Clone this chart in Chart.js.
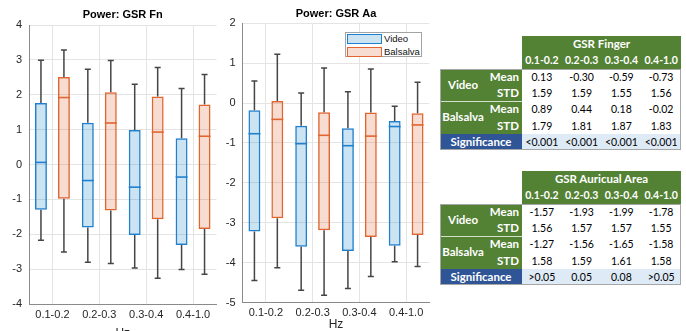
<!DOCTYPE html>
<html>
<head>
<meta charset="utf-8">
<script src="https://cdn.jsdelivr.net/npm/chart.js@4/dist/chart.umd.min.js"></script>
<style>
  html, body { margin: 0; padding: 0; background: #fff; width: 686px; height: 331px; overflow: hidden; }
  .chartBox { position: absolute; top: 0; height: 331px; }
  #fnBox { left: 0; width: 222px; }
  #aaBox { left: 214px; width: 220px; }
  .legend { position: absolute; left: 345px; top: 32px; width: 77px; height: 25px; box-sizing: border-box;
            border: 1px solid #a3a3a3; background: #fff; font-family: 'Liberation Sans', Arial, sans-serif; font-size: 9.5px; color: #111; }
  .legend .item { position: absolute; left: 1px; height: 10px; width: 74px; }
  .legend .sw { position: absolute; left: 0; top: 0; width: 35px; height: 10px; box-sizing: border-box; border: 1.5px solid; }
  .legend .txt { position: absolute; left: 37px; top: 0; line-height: 10px; }
  table.stats { position: absolute; border-collapse: collapse; table-layout: fixed; width: 241px;
                font-family: Lato, 'Open Sans', sans-serif; font-size: 10.5px; color: #000; }
  table.stats td { padding: 0; height: 16.3px; line-height: 12px; text-align: center; white-space: nowrap; overflow: hidden; }
  table.stats td.hdr { background: #548235; color: #fff; font-weight: bold; }
  table.stats td.title { font-size: 11.5px; }
  table.stats td.grp { background: #548235; color: #fff; font-weight: bold; font-size: 11.5px; }
  table.stats td.sub { background: #548235; color: #fff; font-weight: bold; font-size: 11.5px; text-align: right; padding-right: 3px; }
  table.stats td.sep { box-shadow: inset 0 1px 0 rgba(255,255,255,0.75); }
  table.stats td.sigLbl { background: #2F5597; color: #fff; font-weight: bold; font-size: 11.5px; }
  table.stats td.sigVal { background: #DEEBF7; }
  .frame { position: absolute; box-sizing: border-box; border: 1px solid #a6a6a6; pointer-events: none; }
</style>
</head>
<body>
<div id="fnBox" class="chartBox"><canvas id="fnChart"></canvas></div>
<div id="aaBox" class="chartBox"><canvas id="aaChart"></canvas></div>
<div id="legend" class="legend"></div>

<script>
// Frequency bands (Hz) and condition names
const hzBands = ['0.1-0.2', '0.2-0.3', '0.3-0.4', '0.4-1.0'];
const seriesNames = ['Video', 'Balsalva'];

// Box-plot summaries per band: [min, q1, median, q3, max]
const fnVideo = [[-2.17, -1.30, 0.06, 1.76, 2.99], [-2.80, -1.81, -0.46, 1.20, 2.73],
                 [-2.97, -2.02, -0.65, 0.99, 2.30], [-3.01, -2.31, -0.36, 0.75, 2.18]];
const fnBalsalva = [[-2.51, -0.98, 1.92, 2.51, 3.28], [-2.84, -1.32, 1.19, 2.07, 2.98],
                    [-3.26, -1.57, 0.93, 1.95, 2.78], [-3.15, -1.85, 0.81, 1.72, 2.58]];
const aaVideo = [[-4.45, -3.22, -0.77, -0.18, 0.55], [-4.69, -3.60, -1.02, -0.57, 0.25],
                 [-4.65, -3.71, -1.07, -0.63, 0.28], [-3.98, -3.58, -0.59, -0.45, -0.08]];
const aaBalsalva = [[-4.13, -2.89, -0.41, 0.05, 1.22], [-4.82, -3.19, -0.81, -0.23, 0.88],
                    [-4.35, -3.36, -0.83, -0.24, 0.85], [-4.10, -3.31, -0.55, -0.26, 0.52]];

// Table statistics
const fingerVideoMean = [0.13, -0.30, -0.59, -0.73];
const fingerVideoStd = [1.59, 1.59, 1.55, 1.56];
const fingerBalsalvaMean = [0.89, 0.44, 0.18, -0.02];
const fingerBalsalvaStd = [1.79, 1.81, 1.87, 1.83];
const fingerSignificance = ['<0.001', '<0.001', '<0.001', '<0.001'];

const auricVideoMean = [-1.57, -1.93, -1.99, -1.78];
const auricVideoStd = [1.56, 1.57, 1.57, 1.55];
const auricBalsalvaMean = [-1.27, -1.56, -1.65, -1.58];
const auricBalsalvaStd = [1.58, 1.59, 1.61, 1.58];
const auricSignificance = ['>0.05', '0.05', '0.08', '>0.05'];

const edgeColors = ['#1f80cf', '#e2642f'];
const fillColors = ['rgba(0,114,189,0.2)', 'rgba(217,83,25,0.2)'];
const gridColor = '#e4e4e4';
const axisColor = '#8a8a8a';
const textColor = '#262626';
const whiskerColor = '#454545';

// Whiskers, caps and median lines drawn on top of the floating q1-q3 bars
const whiskerPlugin = {
  id: 'whiskers',
  afterDatasetsDraw(chart) {
    const ctx = chart.ctx;
    const ys = chart.scales.y;
    chart.data.datasets.forEach((ds, d) => {
      const meta = chart.getDatasetMeta(d);
      meta.data.forEach((bar, i) => {
        const [mn, q1, md, q3, mx] = ds.stats[i];
        const { x, width } = bar.getProps(['x', 'width'], true);
        const half = width / 2;
        ctx.save();
        ctx.strokeStyle = whiskerColor;
        ctx.lineWidth = 1.5;
        ctx.beginPath();
        ctx.moveTo(x, ys.getPixelForValue(q3));
        ctx.lineTo(x, ys.getPixelForValue(mx));
        ctx.moveTo(x - 3, ys.getPixelForValue(mx));
        ctx.lineTo(x + 3, ys.getPixelForValue(mx));
        ctx.moveTo(x, ys.getPixelForValue(q1));
        ctx.lineTo(x, ys.getPixelForValue(mn));
        ctx.moveTo(x - 3, ys.getPixelForValue(mn));
        ctx.lineTo(x + 3, ys.getPixelForValue(mn));
        ctx.stroke();
        ctx.strokeStyle = ds.borderColor;
        ctx.lineWidth = 1.6;
        ctx.beginPath();
        ctx.moveTo(x - half, ys.getPixelForValue(md));
        ctx.lineTo(x + half, ys.getPixelForValue(md));
        ctx.stroke();
        ctx.restore();
      });
    });
  }
};

function boxDataset(idx, stats) {
  return {
    label: seriesNames[idx],
    data: stats.map(s => [s[1], s[3]]),
    stats: stats,
    backgroundColor: fillColors[idx],
    borderColor: edgeColors[idx],
    borderWidth: 1.5,
    borderSkipped: false,
    categoryPercentage: 0.98,
    barPercentage: 0.52
  };
}

function boxChart(canvasId, cfg) {
  const tickFont = { family: 'Liberation Sans', size: 11 };
  return new Chart(document.getElementById(canvasId), {
    type: 'bar',
    data: { labels: hzBands, datasets: [boxDataset(0, cfg.video), boxDataset(1, cfg.balsalva)] },
    options: {
      responsive: true,
      maintainAspectRatio: false,
      animation: false,
      events: [],
      layout: { padding: { top: 0, left: 0, right: cfg.padRight, bottom: 0 } },
      plugins: {
        legend: { display: false },
        tooltip: { enabled: false },
        title: {
          display: true, text: cfg.title, fullSize: false, color: '#000',
          font: { family: 'Liberation Sans', size: 11, weight: 'bold' },
          padding: { top: cfg.titleTop, bottom: cfg.titleBottom }
        }
      },
      scales: {
        x: {
          offset: true,
          grid: { offset: false, color: gridColor, drawTicks: false },
          border: { color: axisColor, width: 1 },
          ticks: { padding: cfg.xPad, color: textColor, font: tickFont, maxRotation: 0, autoSkip: false },
          title: { display: true, text: 'Hz', color: textColor, font: { family: 'Liberation Sans', size: 12 },
                   padding: { top: 0, bottom: cfg.hzPad } },
          afterFit: s => { s.height = cfg.xHeight; }
        },
        y: {
          min: cfg.yMin, max: cfg.yMax,
          grid: { color: gridColor, drawTicks: false },
          border: { color: axisColor, width: 1 },
          ticks: { stepSize: 1, padding: 7, color: textColor, font: tickFont },
          afterFit: s => { s.width = cfg.yWidth; }
        }
      }
    },
    plugins: [whiskerPlugin]
  });
}

boxChart('fnChart', {
  title: 'Power: GSR Fn', video: fnVideo, balsalva: fnBalsalva,
  yMin: -4, yMax: 4, padRight: 5.5, yWidth: 29, xHeight: 27,
  titleTop: 8.4, titleBottom: 3.4, xPad: 4, hzPad: -10
});
boxChart('aaChart', {
  title: 'Power: GSR Aa', video: aaVideo, balsalva: aaBalsalva,
  yMin: -5, yMax: 2, padRight: 4.5, yWidth: 28.5, xHeight: 28.5,
  titleTop: 7.4, titleBottom: 2.6, xPad: 3.5, hzPad: -1.2
});

// Legend for the two conditions
(function () {
  const lg = document.getElementById('legend');
  seriesNames.forEach((name, i) => {
    const item = document.createElement('div');
    item.className = 'item';
    item.style.top = (i === 0 ? 1.3 : 13.7) + 'px';
    const sw = document.createElement('div');
    sw.className = 'sw';
    sw.style.borderColor = edgeColors[i];
    sw.style.background = fillColors[i];
    const tx = document.createElement('div');
    tx.className = 'txt';
    tx.textContent = name;
    item.appendChild(sw);
    item.appendChild(tx);
    lg.appendChild(item);
  });
})();

// Summary tables
function buildTable(left, top, title, vMean, vStd, bMean, bStd, sig) {
  const rowH = 16.3;
  const t = document.createElement('table');
  t.className = 'stats';
  t.style.left = left + 'px';
  t.style.top = top + 'px';
  const colW = [46, 36, 39.75, 39.75, 39.75, 39.75];
  const cg = document.createElement('colgroup');
  colW.forEach(w => { const c = document.createElement('col'); c.style.width = w + 'px'; cg.appendChild(c); });
  t.appendChild(cg);
  const fmt = v => v.toFixed(2);
  const cell = (tr, text, cls, span, rspan) => {
    const td = document.createElement('td');
    if (cls) td.className = cls;
    if (span) td.colSpan = span;
    if (rspan) td.rowSpan = rspan;
    td.textContent = text;
    tr.appendChild(td);
    return td;
  };
  let tr = t.insertRow(); cell(tr, '', '', 2); cell(tr, title, 'hdr title', 4);
  tr = t.insertRow(); cell(tr, '', '', 2); hzBands.forEach(b => cell(tr, b, 'hdr'));
  tr = t.insertRow(); cell(tr, seriesNames[0], 'grp', 0, 2); cell(tr, 'Mean', 'sub'); vMean.forEach(v => cell(tr, fmt(v)));
  tr = t.insertRow(); cell(tr, 'STD', 'sub'); vStd.forEach(v => cell(tr, fmt(v)));
  tr = t.insertRow(); cell(tr, seriesNames[1], 'grp sep', 0, 2); cell(tr, 'Mean', 'sub sep'); bMean.forEach(v => cell(tr, fmt(v)));
  tr = t.insertRow(); cell(tr, 'STD', 'sub'); bStd.forEach(v => cell(tr, fmt(v)));
  tr = t.insertRow(); cell(tr, 'Significance', 'sigLbl', 2); sig.forEach(v => cell(tr, v, 'sigVal'));
  document.body.appendChild(t);
  const fr = document.createElement('div');
  fr.className = 'frame';
  fr.style.left = left + 'px';
  fr.style.top = (top + 2 * rowH) + 'px';
  fr.style.width = '241px';
  fr.style.height = (5 * rowH) + 'px';
  document.body.appendChild(fr);
}

buildTable(440, 36, 'GSR Finger', fingerVideoMean, fingerVideoStd, fingerBalsalvaMean, fingerBalsalvaStd, fingerSignificance);
buildTable(440, 171, 'GSR Auricual Area', auricVideoMean, auricVideoStd, auricBalsalvaMean, auricBalsalvaStd, auricSignificance);
</script>
</body>
</html>
